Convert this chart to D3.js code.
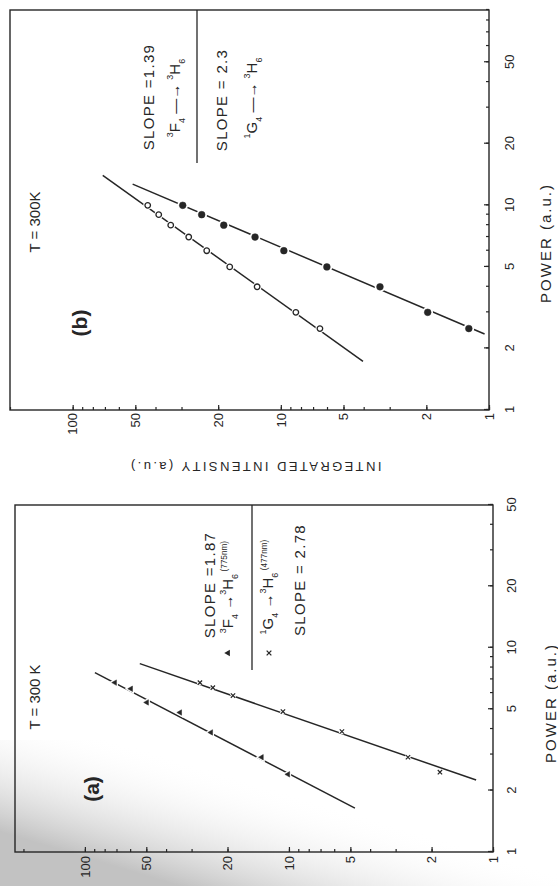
<!DOCTYPE html>
<html>
<head>
<meta charset="utf-8">
<script src="https://cdn.jsdelivr.net/npm/d3@7"></script>
<style>
  body { margin: 0; background: #fff; }
  text { font-family: "Liberation Sans", Arial, sans-serif; fill: #262626; }
</style>
</head>
<body>
<div id="chart"></div>
<script>
// ---- panel (b) data : power (a.u.) vs integrated intensity (a.u.)
var powerB = [10, 9, 8, 7, 6, 5, 4, 3, 2.5];
var intensityB_G = [29.6, 24.0, 18.8, 13.3, 9.67, 6.01, 3.34, 1.97, 1.25];   // 1G4 -> 3H6 (filled)
var intensityB_F = [43.6, 38.6, 33.8, 27.7, 22.7, 17.6, 13.0, 8.47, 6.49];  // 3F4 -> 3H6 (open)
var fitB_G = [[12.7, 51.5], [2.35, 1.05]];
var fitB_F = [[14.0, 71.7], [1.73, 4.03]];

// ---- panel (a) data
var powerA_F = [6.75, 6.3, 5.4, 4.82, 3.85, 2.91, 2.4];
var intensityA_F = [71.3, 59.5, 49.7, 34.2, 24.1, 13.6, 10.1];             // 3F4 -> 3H6 (775nm), triangles
var powerA_G = [6.75, 6.38, 5.83, 4.87, 3.89, 2.91, 2.46];
var intensityA_G = [27.3, 23.6, 18.8, 10.7, 5.5, 2.61, 1.82];               // 1G4 -> 3H6 (477nm), crosses
var fitA_F = [[7.55, 89.3], [1.64, 4.75]];
var fitA_G = [[8.36, 53.8], [2.25, 1.21]];

var powerTicks = [1, 2, 5, 10, 20, 50];
var intensityTicks = [1, 2, 5, 10, 20, 50, 100];

var ink = "#262626";

var svg = d3.select("#chart").append("svg")
    .attr("width", 558)
    .attr("height", 886);

// paper + scan shading at the bottom
var grad = svg.append("defs").append("linearGradient")
    .attr("id", "shade")
    .attr("gradientUnits", "userSpaceOnUse")
    .attr("x1", 215).attr("y1", 770)
    .attr("x2", 180).attr("y2", 886);
grad.append("stop").attr("offset", 0).attr("stop-color", "#fff").attr("stop-opacity", 0);
grad.append("stop").attr("offset", 1).attr("stop-color", "#c2c2c2").attr("stop-opacity", 1);
svg.append("rect").attr("width", 558).attr("height", 886).attr("fill", "#fff");
svg.append("rect").attr("y", 740).attr("width", 558).attr("height", 146).attr("fill", "url(#shade)");

// text with super/subscripts: parts = [[string, "sup"|"sub"|"note"|""], ...]
function rich(g, x, y, parts, size) {
    var t = g.append("text").attr("x", x).attr("y", y)
        .attr("text-anchor", "middle")
        .style("font-size", size + "px");
    var off = 0;
    parts.forEach(function(p) {
        var target = p[1] == "sup" ? -size * 0.45 : (p[1] == "sub" ? size * 0.3 : (p[1] == "note" ? -size * 0.4 : 0));
        var s = t.append("tspan").attr("dy", target - off).text(p[0]);
        if(p[1]) s.style("font-size", (p[1] == "note" ? size * 0.55 : size * 0.6) + "px");
        off = target;
    });
    return t;
}

function drawPanel(p) {
    // the whole panel is drawn upright and then turned a quarter turn, as in the scan
    var g = svg.append("g")
        .attr("transform", "translate(" + p.left + "," + p.bottom + ") rotate(-90)");

    var x = d3.scaleLog().domain(p.powerDomain).range([0, p.w]);
    var y = d3.scaleLog().domain(p.intDomain).range([p.h, 0]);

    // minor ticks
    g.append("g").attr("transform", "translate(0," + p.h + ")")
        .call(d3.axisBottom(x).tickValues(x.ticks()).tickSize(-3).tickFormat(""));
    g.append("g")
        .call(d3.axisLeft(y).tickValues(y.ticks()).tickSize(-3).tickFormat(""));
    // major ticks + labels
    g.append("g").attr("class", "lab").attr("transform", "translate(0," + p.h + ")")
        .call(d3.axisBottom(x).tickValues(powerTicks).tickSize(-5).tickPadding(p.xPad).tickFormat(d3.format("d")));
    g.append("g").attr("class", "lab")
        .call(d3.axisLeft(y).tickValues(intensityTicks).tickSize(-5).tickPadding(p.yPad).tickFormat(d3.format("d")));

    g.selectAll(".domain").remove();
    g.selectAll(".tick line").attr("stroke", ink).attr("stroke-width", 1.2);
    g.selectAll(".lab text").style("font-size", "13px").attr("fill", ink);

    g.append("rect")
        .attr("width", p.w).attr("height", p.h)
        .attr("fill", "none").attr("stroke", ink).attr("stroke-width", 1.4);

    var line = d3.line().x(function(d) { return x(d[0]); }).y(function(d) { return y(d[1]); });

    p.series.forEach(function(s) {
        g.append("path").datum(s.fit)
            .attr("d", line)
            .attr("fill", "none").attr("stroke", ink).attr("stroke-width", 1.5);

        var pts = s.power.map(function(v, i) { return [v, s.intensity[i]]; });
        var sym = d3.symbol(s.symbol, s.size);
        // white halo: the scan shows small gaps in the line round each marker
        g.selectAll(null).data(pts).enter().append("path")
            .attr("transform", function(d) { return "translate(" + x(d[0]) + "," + y(d[1]) + ")"; })
            .attr("d", sym)
            .attr("fill", "#fff").attr("stroke", "#fff").attr("stroke-width", s.halo);
        g.selectAll(null).data(pts).enter().append("path")
            .attr("transform", function(d) { return "translate(" + x(d[0]) + "," + y(d[1]) + ")"; })
            .attr("d", sym)
            .attr("fill", s.fill).attr("stroke", ink).attr("stroke-width", s.stroke);
    });

    p.legend(g);

    g.append("text").attr("x", p.tempX).attr("y", p.tempY)
        .attr("text-anchor", "middle").style("font-size", "15px").text(p.temp);
    g.append("text").attr("x", p.tagX).attr("y", p.tagY)
        .attr("text-anchor", "middle").style("font-size", "21px").style("font-weight", "bold").text(p.tag);
    g.append("text").attr("x", p.powX).attr("y", p.powY)
        .attr("text-anchor", "middle").style("font-size", "15px").style("letter-spacing", "2px")
        .text("POWER (a.u.)");
    return g;
}

// panel (b), top of the page
var gb = drawPanel({
    left: 10, bottom: 410, w: 400, h: 479,
    powerDomain: [1, 90], intDomain: [1, 200],
    xPad: 16, yPad: 3,
    temp: "T = 300K", tempX: 188, tempY: 30,
    tag: "(b)", tagX: 87, tagY: 77,
    powX: 167, powY: 541,
    series: [
        { power: powerB, intensity: intensityB_G, fit: fitB_G, symbol: d3.symbolCircle, size: 36, fill: ink, stroke: 0.5, halo: 4 },
        { power: powerB, intensity: intensityB_F, fit: fitB_F, symbol: d3.symbolCircle, size: 24, fill: "#fff", stroke: 1.3, halo: 3.5 }
    ],
    legend: function(g) {
        g.append("text").attr("x", 313).attr("y", 144).attr("text-anchor", "middle")
            .style("font-size", "15px").style("letter-spacing", "1.3px").text("SLOPE =1.39");
        rich(g, 312, 170, [["3", "sup"], ["F", ""], ["4", "sub"], [" \u2014\u2192 ", ""], ["3", "sup"], ["H", ""], ["6", "sub"]], 15);
        g.append("line").attr("x1", 247).attr("x2", 400).attr("y1", 187).attr("y2", 187)
            .attr("stroke", ink).attr("stroke-width", 1.3);
        g.append("text").attr("x", 310).attr("y", 217).attr("text-anchor", "middle")
            .style("font-size", "15px").style("letter-spacing", "1.3px").text("SLOPE = 2.3");
        rich(g, 312, 247, [["1", "sup"], ["G", ""], ["4", "sub"], [" \u2014\u2192 ", ""], ["3", "sup"], ["H", ""], ["6", "sub"]], 15);
    }
});

// shared y label, sitting between the two panels
gb.append("text")
    .attr("transform", "translate(-52,245) rotate(-90)")
    .attr("text-anchor", "middle")
    .style("font-size", "13px").style("letter-spacing", "2.4px")
    .text("INTEGRATED INTENSITY (a.u.)");

// panel (a), bottom of the page
drawPanel({
    left: 15, bottom: 852, w: 347, h: 478,
    powerDomain: [1, 50], intDomain: [1, 220],
    xPad: 14, yPad: 4,
    temp: "T = 300 K", tempX: 155, tempY: 25,
    tag: "(a)", tagX: 63, tagY: 84,
    powX: 149, powY: 541,
    series: [
        { power: powerA_F, intensity: intensityA_F, fit: fitA_F, symbol: d3.symbolTriangle, size: 13, fill: ink, stroke: 0.5, halo: 3 },
        { power: powerA_G, intensity: intensityA_G, fit: fitA_G, symbol: d3.symbolX, size: 14, fill: "none", stroke: 1.2, halo: 3 }
    ],
    legend: function(g) {
        g.append("text").attr("x", 267).attr("y", 200).attr("text-anchor", "middle")
            .style("font-size", "15px").style("letter-spacing", "1.3px").text("SLOPE =1.87");
        g.append("path").attr("transform", "translate(199,213)")
            .attr("d", d3.symbol(d3.symbolTriangle, 18)).attr("fill", ink);
        rich(g, 265, 218, [["3", "sup"], ["F", ""], ["4", "sub"], [" \u2192", ""], ["3", "sup"], ["H", ""], ["6", "sub"], ["  (775nm)", "note"]], 15);
        g.append("line").attr("x1", 182).attr("x2", 347).attr("y1", 237).attr("y2", 237)
            .attr("stroke", ink).attr("stroke-width", 1.3);
        g.append("path").attr("transform", "translate(199,254)")
            .attr("d", d3.symbol(d3.symbolX, 16)).attr("fill", "none").attr("stroke", ink).attr("stroke-width", 1.3);
        rich(g, 265, 258, [["1", "sup"], ["G", ""], ["4", "sub"], [" \u2192", ""], ["3", "sup"], ["H", ""], ["6", "sub"], ["  (477nm)", "note"]], 15);
        g.append("text").attr("x", 272).attr("y", 290).attr("text-anchor", "middle")
            .style("font-size", "15px").style("letter-spacing", "1.3px").text("SLOPE = 2.78");
    }
});
</script>
</body>
</html>
